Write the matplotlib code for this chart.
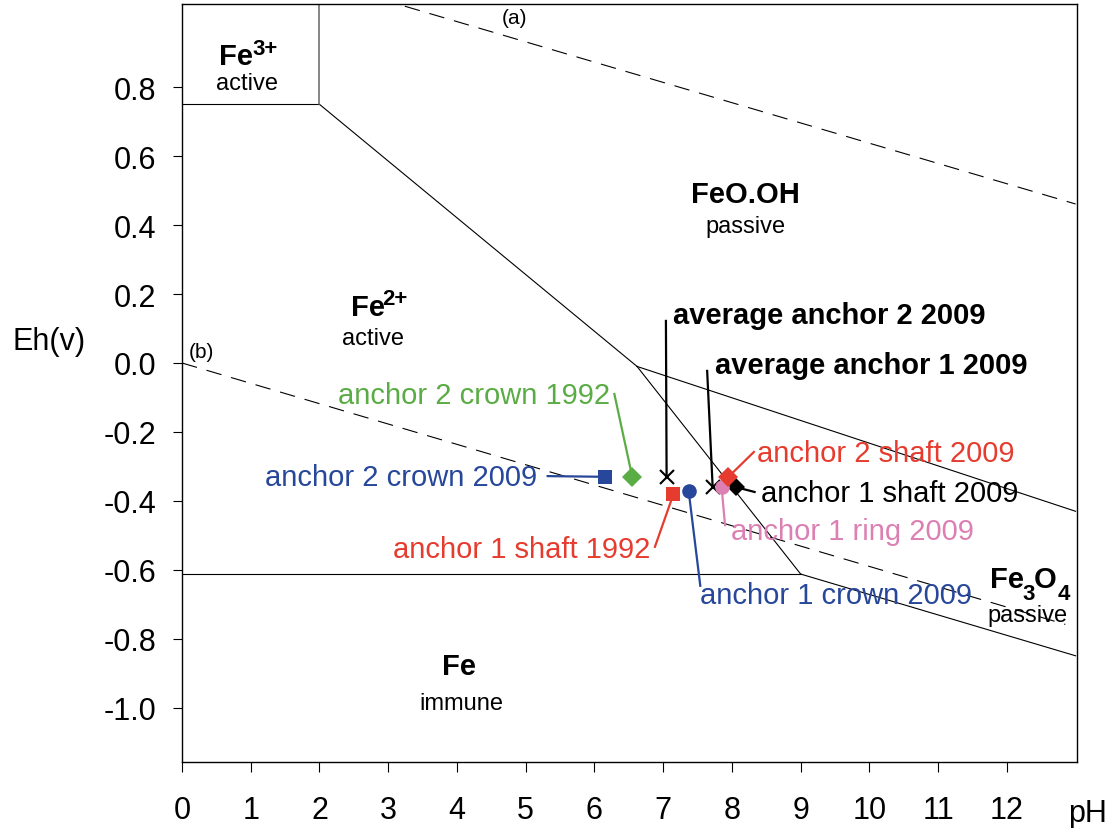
import matplotlib.pyplot as plt

plt.rcParams['font.family'] = ['Liberation Sans', 'DejaVu Sans']
plt.rcParams['axes.unicode_minus'] = False

# measured samples (pH, Eh in volts)
sample_names = ['anchor 2 crown 2009', 'anchor 2 crown 1992', 'anchor 1 shaft 1992',
                'anchor 1 crown 2009', 'anchor 1 shaft 2009', 'anchor 1 ring 2009',
                'anchor 2 shaft 2009']
sample_ph = [6.15, 6.55, 7.15, 7.37, 8.06, 7.85, 7.95]
sample_eh = [-0.33, -0.33, -0.38, -0.37, -0.36, -0.36, -0.33]

avg_names = ['average anchor 2 2009', 'average anchor 1 2009']
avg_ph = [7.05, 7.72]
avg_eh = [-0.33, -0.36]

# stability field boundaries
fe3_fe2_ph, fe3_fe2_eh = [0, 2], [0.75, 0.75]
fe3_feooh_ph, fe3_feooh_eh = [2, 2], [0.75, 1.1]
fe2_feooh_ph, fe2_feooh_eh = [2, 6.62], [0.75, -0.01]
fe2_fe3o4_ph, fe2_fe3o4_eh = [6.62, 9], [-0.01, -0.612]
feooh_fe3o4_ph, feooh_fe3o4_eh = [6.62, 13], [-0.01, -0.43]
fe_fe2_ph, fe_fe2_eh = [0, 9], [-0.612, -0.612]
fe_fe3o4_ph, fe_fe3o4_eh = [9, 13], [-0.612, -0.849]

# water stability lines
water_a_ph, water_a_eh = [0, 13], [1.225, 0.461]
water_b_ph, water_b_eh = [0, 12.85], [0.0, -0.758]

x_ticks = list(range(13))
y_ticks = [-1.0, -0.8, -0.6, -0.4, -0.2, 0.0, 0.2, 0.4, 0.6, 0.8]

# styles / label layout
blue = '#27479a'
green = '#5aac44'
red = '#e63c2f'
pink = '#dc7fb2'
sample_style = [
    dict(marker='s', color=blue), dict(marker='D', color=green),
    dict(marker='s', color=red), dict(marker='o', color=blue),
    dict(marker='D', color='black'), dict(marker='o', color=pink),
    dict(marker='D', color=red),
]
sample_ms = [10.5, 10.0, 10.5, 10.5, 9.5, 10.5, 10.0]
# leader start, text position, alignment
sample_leader = [(5.32, -0.328), (6.29, -0.09), (6.88, -0.533), (7.54, -0.646),
                 (8.33, -0.374), (7.9, -0.47), (8.32, -0.258)]
sample_text = [(5.16, -0.354, 'right'), (6.23, -0.116, 'right'), (6.81, -0.562, 'right'),
               (7.53, -0.696, 'left'), (8.42, -0.40, 'left'), (7.99, -0.51, 'left'),
               (8.36, -0.284, 'left')]
avg_leader = [(7.04, 0.122), (7.64, -0.023)]
avg_text = [(7.14, 0.116), (7.75, -0.029)]

fig = plt.figure(figsize=(11.18, 8.29), dpi=100)
ax = fig.add_axes([0.1628, 0.0796, 0.8005, 0.9144])

lw = 0.8
for px, py in [(fe3_fe2_ph, fe3_fe2_eh), (fe2_feooh_ph, fe2_feooh_eh),
               (fe2_fe3o4_ph, fe2_fe3o4_eh), (feooh_fe3o4_ph, feooh_fe3o4_eh),
               (fe_fe2_ph, fe_fe2_eh), (fe_fe3o4_ph, fe_fe3o4_eh)]:
    ax.plot(px, py, color='black', lw=lw, zorder=2)
ax.plot(fe3_feooh_ph, fe3_feooh_eh, color='#666666', lw=1.1, zorder=2)

for px, py in [(water_a_ph, water_a_eh), (water_b_ph, water_b_eh)]:
    ax.plot(px, py, color='black', lw=lw, dashes=(14, 9), zorder=2)

ax.text(4.84, 1.003, '(a)', fontsize=15, ha='center', va='center')
ax.text(0.1, 0.005, '(b)', fontsize=15, ha='left', va='bottom')


def chem_label(x, y, parts):
    # parts: (text, dx, dy, fontsize) pieces written left to right, offsets in data units
    for txt, dx, dy, fs in parts:
        ax.text(x + dx, y + dy, txt, fontsize=fs, fontweight='bold',
                ha='left', va='baseline')


# region labels
sub_kw = dict(ha='center', va='baseline', fontsize=17)
chem_label(0.54, 0.867, [('Fe', 0, 0, 21), ('3+', 0.48, 0.03, 16)])
ax.text(0.95, 0.794, 'active', **sub_kw)
chem_label(2.46, 0.139, [('Fe', 0, 0, 21), ('2+', 0.46, 0.032, 16)])
ax.text(2.78, 0.055, 'active', **sub_kw)
ax.text(8.2, 0.467, 'FeO.OH', fontsize=21, fontweight='bold', ha='center', va='baseline')
ax.text(8.2, 0.38, 'passive', **sub_kw)
ax.text(4.03, -0.901, 'Fe', fontsize=21, fontweight='bold', ha='center', va='baseline')
ax.text(4.07, -1.003, 'immune', **sub_kw)
chem_label(11.75, -0.649, [('Fe', 0, 0, 21), ('3', 0.47, -0.035, 16),
                           ('O', 0.64, 0, 21), ('4', 0.99, -0.035, 16)])
ax.text(12.3, -0.748, 'passive', **sub_kw)

# samples with leader lines
for i, name in enumerate(sample_names):
    c = sample_style[i]['color']
    lx, ly = sample_leader[i]
    ax.plot([lx, sample_ph[i]], [ly, sample_eh[i]], color=c, lw=1.6, zorder=3)
    tx, ty, ha = sample_text[i]
    ax.text(tx, ty, name, color=c, fontsize=21, ha=ha, va='baseline')

for i, name in enumerate(avg_names):
    lx, ly = avg_leader[i]
    ax.plot([lx, avg_ph[i]], [ly, avg_eh[i]], color='black', lw=1.6, zorder=3)
    tx, ty = avg_text[i]
    ax.text(tx, ty, name, fontsize=21, fontweight='bold', ha='left', va='baseline')

ax.plot(avg_ph, avg_eh, ls='none', marker='x', ms=10, mew=1.5, color='black', zorder=4)
for i in range(len(sample_names)):
    ax.plot(sample_ph[i], sample_eh[i], ls='none', ms=sample_ms[i], mew=0,
            zorder=5 + i, **sample_style[i])

ax.set_xlim(0, 13.02)
ax.set_ylim(-1.157, 1.041)
ax.set_xticks(x_ticks)
ax.set_xticklabels([str(t) for t in x_ticks])
ax.set_yticks(y_ticks)
ax.set_yticklabels([f'{t:.1f}' for t in y_ticks])
ax.tick_params(axis='x', length=7, width=0.8, pad=17, labelsize=22)
ax.tick_params(axis='y', length=6.5, width=0.8, pad=12, labelsize=22)
for s in ax.spines.values():
    s.set_linewidth(1.0)

ax.text(-2.47, 0.041, 'Eh(v)', fontsize=22, ha='left', va='baseline', clip_on=False)
ax.text(13.17, -1.327, 'pH', fontsize=22, ha='center', va='baseline', clip_on=False)

fig.savefig('out.png', dpi=100)
